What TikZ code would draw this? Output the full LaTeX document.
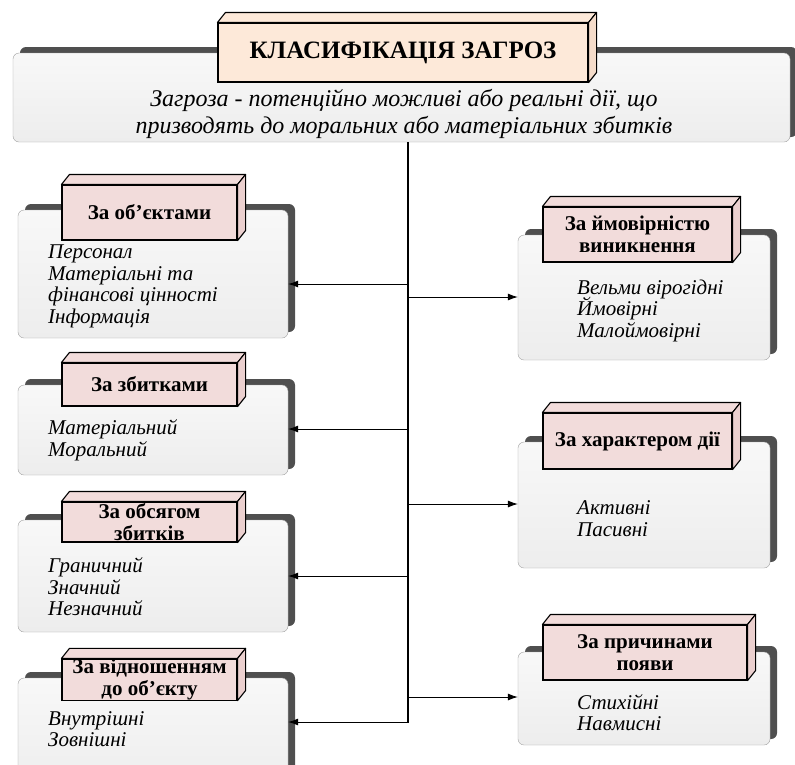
\documentclass[tikz,border=0pt]{standalone}
\usepackage{fontspec}
\setmainfont{Liberation Serif}
\usepackage{tikz}
\usetikzlibrary{arrows.meta, positioning, shadows}
\definecolor{panelfill}{HTML}{EDEDED}
\definecolor{paneltop}{HTML}{F8F8F8}
\definecolor{panelborder}{HTML}{A0A0A0}
\definecolor{panelshadow}{HTML}{4F4F4F}
\definecolor{tabpink}{HTML}{F2DCDB}
\definecolor{tabside}{HTML}{EBD0CF}
\definecolor{headpeach}{HTML}{FDE9D9}
\definecolor{headside}{HTML}{F5DCCA}
\setlength{\lineskiplimit}{-20pt}

\begin{document}
\begin{tikzpicture}[
  x=1pt, y=-1pt,
  panel/.style={rectangle, rounded corners=6pt, draw=panelborder, top color=paneltop,
                bottom color=panelfill, inner sep=0pt,
                general shadow={fill=panelshadow, shadow xshift=7pt, shadow yshift=6pt}},
  tabbox/.style={rectangle, draw=black, line width=1.1pt, fill=tabpink, align=center,
                 inner sep=0pt, font=\fontsize{21}{22}\selectfont\bfseries},
  items/.style={anchor=west, align=left, inner sep=0pt,
                font=\fontsize{21}{21.5}\selectfont\itshape},
  arrow/.style={-{Latex[length=10pt, width=7pt]}, line width=0.8pt},
  trunk/.style={line width=1.1pt}
]
  \useasboundingbox (0,0) rectangle (795,764);
  \clip (0,0) rectangle (795,764);

  % header panel
  \node[panel, minimum width=777pt, minimum height=89pt,
        general shadow={fill=panelshadow, shadow xshift=7pt, shadow yshift=5pt}] (pdef) at (401.5,97.5) {};
  \node[tabbox, fill=headpeach, minimum width=370pt, minimum height=59pt,
        font=\fontsize{25}{28}\selectfont\bfseries] (thead) at (403,52.5) {КЛАСИФІКАЦІЯ ЗАГРОЗ};
  \node[font=\fontsize{24}{27}\selectfont\itshape, align=center] (defn) at (404,114)
    {Загроза - потенційно можливі або реальні дії, що\\призводять до моральних або матеріальних збитків};

  % left column
  \node[panel, minimum width=270pt, minimum height=128pt] (pobj) at (153,274) {};
  \node[panel, minimum width=270pt, minimum height=90pt]  (pdmg) at (153,430) {};
  \node[panel, minimum width=270pt, minimum height=112pt] (pvol) at (153,576) {};
  \node[panel, minimum width=270pt, minimum height=114pt] (prel) at (153,735) {};

  % right column
  \node[panel, minimum width=252pt, minimum height=125pt] (pprob)  at (644,297.5) {};
  \node[panel, minimum width=252pt, minimum height=126pt] (pact)   at (644,505) {};
  \node[panel, minimum width=252pt, minimum height=93pt]  (pcause) at (644,698.5) {};

  % tabs
  \node[tabbox, minimum width=175pt, minimum height=55pt] (tobj) at (149.5,212.5) {За об’єктами};
  \node[tabbox, minimum width=175pt, minimum height=43pt] (tdmg) at (149.5,384.5) {За збитками};
  \node[tabbox, minimum width=175pt, minimum height=40pt] (tvol) at (149.5,522) {За обсягом\\збитків};
  \node[tabbox, minimum width=175pt, minimum height=41pt] (trel) at (149.5,679.5) {За відношенням\\до об’єкту};
  \node[tabbox, minimum width=189pt, minimum height=55pt] (tprob) at (637.5,234.5) {За ймовірністю\\виникнення};
  \node[tabbox, minimum width=189pt, minimum height=56pt] (tact) at (637.5,441) {За характером дії};
  \node[tabbox, minimum width=204pt, minimum height=55pt] (tcause) at (645,652.5) {За причинами\\появи};

  % 3d faces of the tabs
  \foreach \t/\c/\s in {thead/headpeach/headside, tobj/tabpink/tabside, tdmg/tabpink/tabside,
                        tvol/tabpink/tabside, trel/tabpink/tabside, tprob/tabpink/tabside,
                        tact/tabpink/tabside, tcause/tabpink/tabside}{
    \filldraw[fill=\c, line width=1.1pt, line join=round] (\t.north west) -- ([shift={(8,-10)}]\t.north west)
      -- ([shift={(8,-10)}]\t.north east) -- (\t.north east) -- cycle;
    \filldraw[fill=\s, line width=1.1pt, line join=round] (\t.north east) -- ([shift={(8,-10)}]\t.north east)
      -- ([shift={(8,-10)}]\t.south east) -- (\t.south east) -- cycle;
  }

  % item lists
  \node[items] (iobj) at (48,286.5) {Персонал\\Матеріальні та\\фінансові цінності\\Інформація};
  \node[items] (idmg) at (48,440.5) {Матеріальний\\Моральний};
  \node[items] (ivol) at (48,587) {Граничний\\Значний\\Незначний};
  \node[items] (irel) at (48,729) {Внутрішні\\Зовнішні};
  \node[items] (iprob) at (577,310.5) {Вельми вірогідні\\Ймовірні\\Малоймовірні};
  \node[items] (iact) at (577,518.5) {Активні\\Пасивні};
  \node[items] (icause) at (577,712.5) {Стихійні\\Навмисні};

  % connectors
  \coordinate (ttop) at (408,0 |- pdef.south);
  \coordinate (tend) at (408,723);
  \draw[trunk] (ttop) -- (tend);
  \foreach \n/\y in {obj/284, dmg/429, vol/576, rel/722}{
    \coordinate (j\n) at (408,\y);
    \draw[arrow] (j\n) -- (j\n -| p\n.east);
  }
  \foreach \n/\y in {prob/297, act/504, cause/697}{
    \coordinate (j\n) at (408,\y);
    \draw[arrow] (j\n) -- (j\n -| p\n.west);
  }
\end{tikzpicture}
\end{document}
